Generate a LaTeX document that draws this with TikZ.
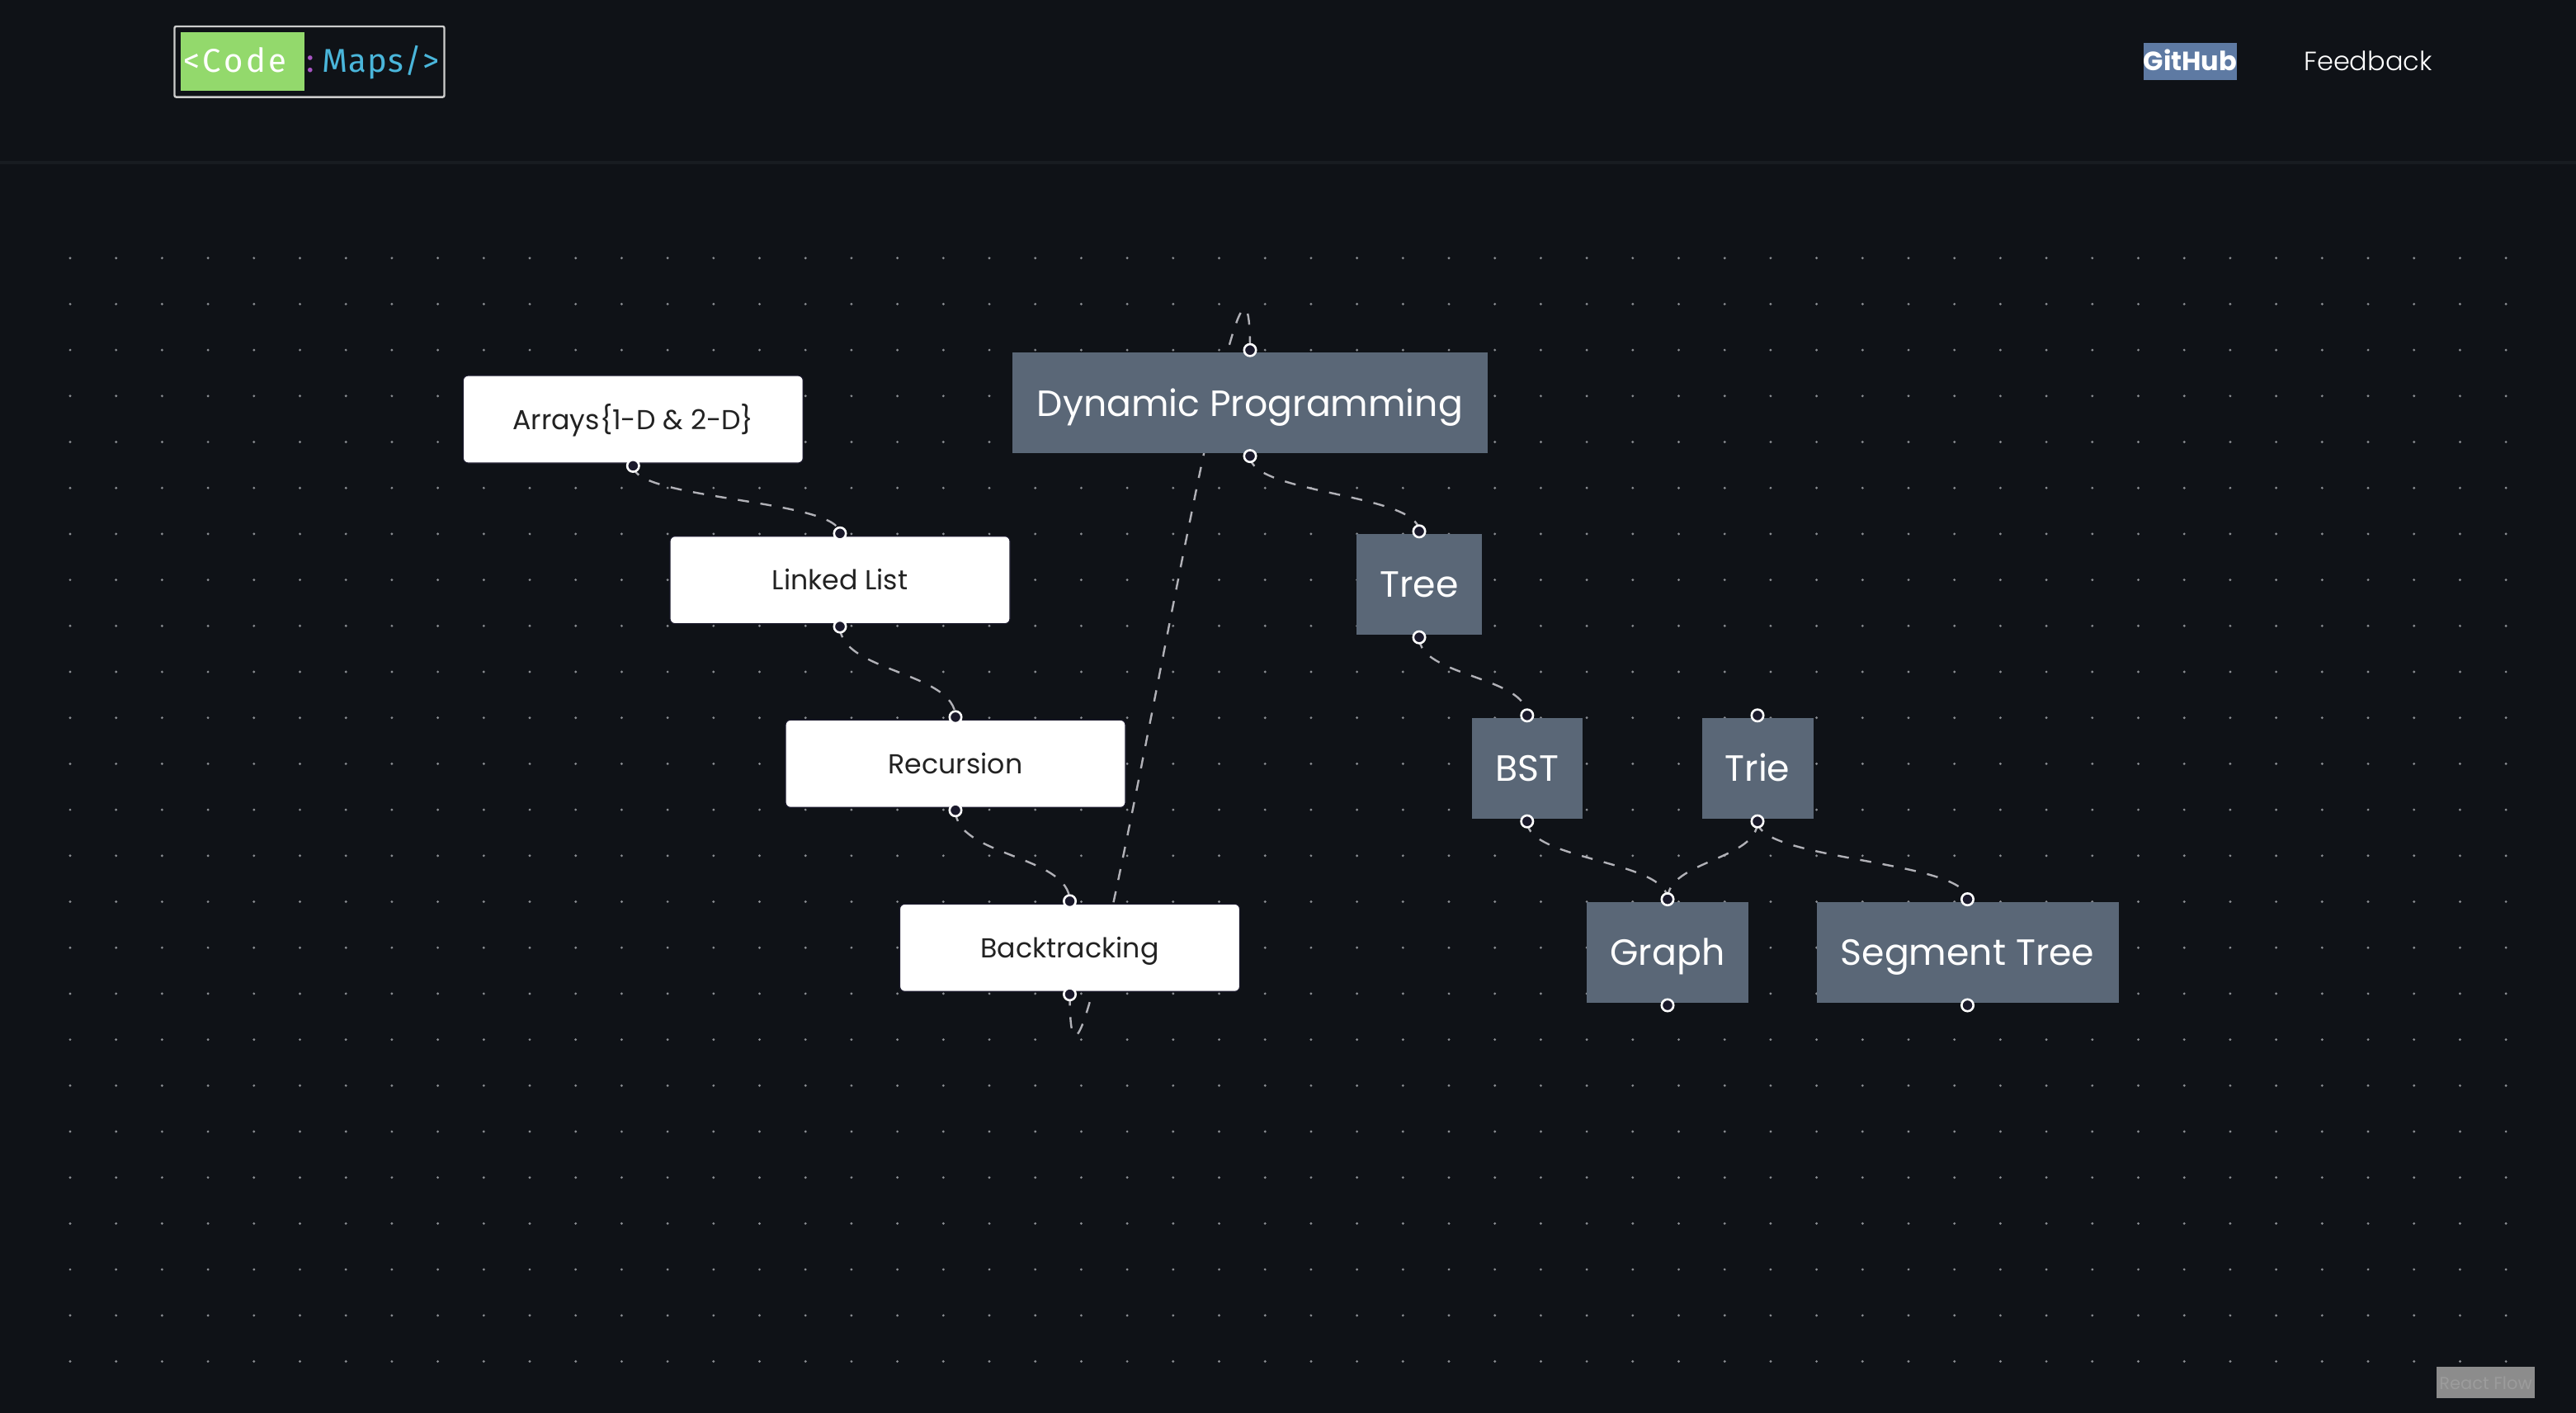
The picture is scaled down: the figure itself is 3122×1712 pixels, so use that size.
\documentclass[tikz,border=0pt]{standalone}
\usepackage{fontspec}
\setmainfont{Poppins}
\newfontfamily\lightfont{Poppins Light}
\newfontfamily\logofont[LetterSpace=9]{Fira Sans}
\newfontfamily\mapsfont[LetterSpace=3]{Fira Sans}
\usetikzlibrary{backgrounds}
\definecolor{pagecolor}{HTML}{0F1217}
\definecolor{rulecolor}{HTML}{181C21}
\definecolor{dotcolor}{HTML}{8A8D92}
\definecolor{slatecolor}{HTML}{5A6777}
\definecolor{portcolor}{HTML}{1A192B}
\definecolor{linkcolor}{HTML}{B1B1B7}
\definecolor{inkcolor}{HTML}{222222}
\definecolor{logogreen}{HTML}{93D96C}
\definecolor{logoblue}{HTML}{4AB6DB}
\definecolor{logopurple}{HTML}{A855C4}
\definecolor{githubcolor}{HTML}{5E7AA3}
\definecolor{badgecolor}{HTML}{8C8C8C}
\definecolor{badgetext}{HTML}{9C9C9C}
\newcommand{\portshift}{1.4pt}
\newcommand{\linkpath}[3]{\draw[link] (#1.center) .. controls +(0,#3) and +(0,-#3) .. (#2.center);}
\tikzset{
  whitebox/.style={fill=white, draw=portcolor, line width=0.6pt, rounded corners=3pt, text=inkcolor, inner sep=0pt,
    minimum width=206pt, minimum height=53pt, text height=16.3pt, text depth=4.2pt, font=\fontsize{16.6}{20}\selectfont},
  slatebox/.style={fill=slatecolor, text=white, inner sep=0pt, minimum height=61pt,
    text height=22.5pt, text depth=6.6pt, font=\fontsize{22.1}{26}\selectfont},
  port/.style={circle, fill=portcolor, draw=white, line width=1.3pt, inner sep=0pt, minimum size=7.2pt},
  link/.style={draw=linkcolor, line width=1.2pt, dash pattern=on 6.8pt off 7pt},
  logotext/.style={anchor=base west, inner sep=0pt, font=\logofont\fontsize{20}{24}\selectfont}
}
\begin{document}
\begin{tikzpicture}[x=0.5pt,y=-0.5pt]
\useasboundingbox (0,0) rectangle (3122,1712);
% header
\node[fill=logogreen, inner sep=0pt, minimum width=75.3pt, minimum height=35.5pt] (logobox) at (294,74.8) {};
\node[logotext, text=white] (logocode) at (222,88) {<Code};
\node[logotext, text=logopurple] (logocolon) at (371,88) {:};
\node[logotext, text=logoblue, font=\mapsfont\fontsize{20}{24}\selectfont] (logomaps) at (390,88) {Maps/>};
\node[draw=white!80!black, line width=1.2pt, rounded corners=1pt, inner sep=0pt, minimum width=163.5pt, minimum height=42.8pt] (logoframe) at (375,74.8) {};
\node[fill=githubcolor, text=white, inner sep=0pt, minimum width=56.5pt, minimum height=22.4pt, text height=11.6pt, text depth=0.5pt, font=\bfseries\fontsize{16}{20}\selectfont] (github) at (2654.5,74.4) {GitHub};
\node[text=white, anchor=base, inner sep=0pt, font=\lightfont\fontsize{16}{20}\selectfont] (feedback) at (2870,85.7) {Feedback};
% left column
\node[whitebox] (arrays) at (767.3,508) {Arrays\{1-D \& 2-D\}};
\node[whitebox] (linked) at (1018,702.7) {Linked List};
\node[whitebox] (recursion) at (1158,925.3) {Recursion};
\node[whitebox] (backtracking) at (1296.5,1148.3) {Backtracking};
% right part
\node[slatebox, minimum width=288.3pt] (dp) at (1515,488.4) {Dynamic Programming};
\node[slatebox, minimum width=76pt] (tree) at (1720,708) {Tree};
\node[slatebox, minimum width=66.7pt] (bst) at (1850.8,931) {BST};
\node[slatebox, minimum width=67.5pt] (trie) at (2130,931) {Trie};
\node[slatebox, minimum width=98.2pt] (graph) at (2021,1153.8) {Graph};
\node[slatebox, minimum width=183pt] (segment) at (2384.5,1153.8) {Segment Tree};
% handles
\foreach \nd in {linked,recursion,backtracking,dp,tree,bst,trie,graph,segment} {
  \node[port, yshift=\portshift] (\nd-in) at (\nd.north) {};
}
\foreach \nd in {arrays,linked,recursion,backtracking,dp,tree,bst,trie,graph,segment} {
  \node[port, yshift=-\portshift] (\nd-out) at (\nd.south) {};
}
\begin{scope}[on background layer]
\fill[pagecolor] (0,0) rectangle (3122,1712);
\fill[rulecolor] (0,195) rectangle (3122,199);
\foreach \i in {0,...,53} {
  \foreach \j in {0,...,24} {
    \fill[dotcolor] (85+55.7*\i,312.7+55.7*\j) circle (0.8pt);
  }
}
\linkpath{arrays-out}{linked-in}{41}
\linkpath{linked-out}{recursion-in}{55}
\linkpath{recursion-out}{backtracking-in}{56}
\linkpath{backtracking-out}{dp-in}{332}
\linkpath{dp-out}{tree-in}{46}
\linkpath{tree-out}{bst-in}{47.5}
\linkpath{bst-out}{graph-in}{47}
\linkpath{trie-out}{graph-in}{47}
\linkpath{trie-out}{segment-in}{47}
\end{scope}
% attribution
\node[fill=badgecolor, text=badgetext, inner sep=0pt, minimum width=59.5pt, minimum height=18.8pt, text height=8.5pt, text depth=0pt, font=\fontsize{10.5}{12}\selectfont] (badge) at (3012.5,1675) {React Flow};
\end{tikzpicture}
\end{document}
